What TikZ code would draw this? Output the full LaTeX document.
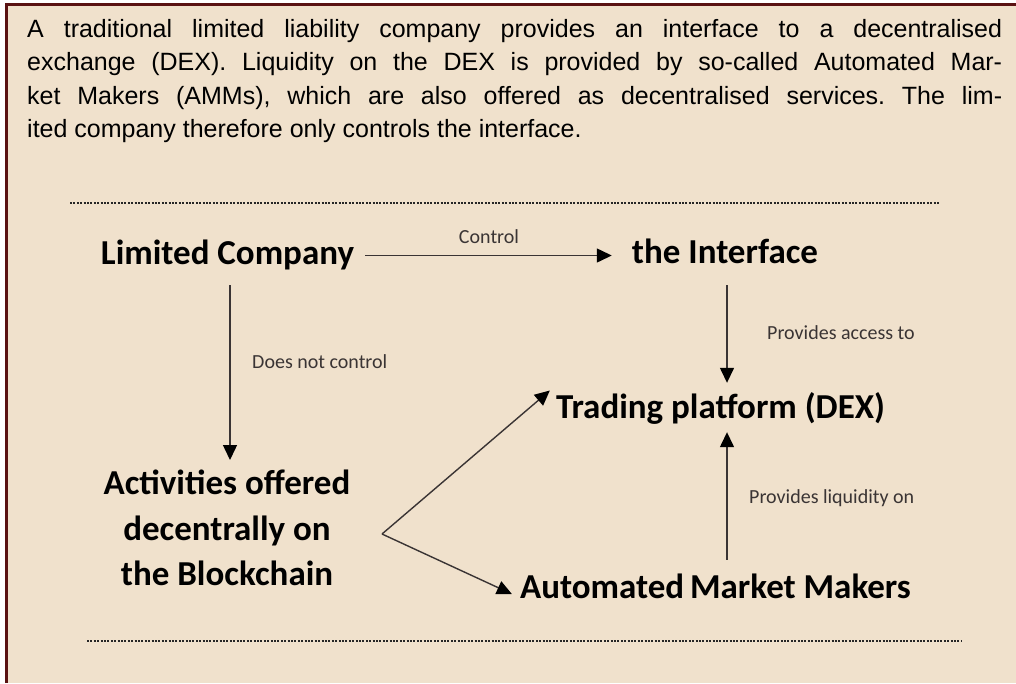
\documentclass[tikz,border=0pt]{standalone}
\usepackage{fontspec}
\setmainfont{Liberation Sans}
\newfontfamily\calibri{Carlito}
\usetikzlibrary{arrows.meta}

\definecolor{paper}{HTML}{F0E1CC}
\definecolor{rim}{HTML}{5A1212}
\definecolor{wire}{HTML}{3A3434}

\tikzset{
  bigtext/.style={font=\calibri\bfseries\fontsize{35}{45.5}\selectfont, align=center,
    inner sep=0pt, text height=25pt, text depth=8pt},
  blocktext/.style={font=\calibri\bfseries\fontsize{35}{45.5}\selectfont, align=center,
    inner sep=0pt},
  smalltext/.style={font=\calibri\fontsize{20}{24}\selectfont, text=wire, inner sep=0pt},
  link/.style={draw=wire, line width=1.4pt, -{Triangle[length=15pt,width=14pt,color=black]}},
  rule/.style={line width=2pt, dash pattern=on 2pt off 1.4pt, black!85}
}

\begin{document}
\begin{tikzpicture}[x=1pt, y=-1pt]

\useasboundingbox (0,0) rectangle (1016,683);

% Paper and frame
\fill[paper] (6,5) rectangle (1016,683);
\draw[rim, line width=2.6pt] (6.2,683) -- (6.2,4.7) -- (1016,4.7);

% Intro text
\node[anchor=north west, inner sep=0pt, text width=975pt, align=justify,
      font=\frenchspacing\fontsize{25}{33.5}\selectfont] (intro) at (27,19)
  {A traditional limited liability company provides an interface to a decentralised\linebreak
   exchange (DEX). Liquidity on the DEX is provided by so-called Automated Mar-\linebreak
   ket Makers (AMMs), which are also offered as decentralised services. The lim-\linebreak
   ited company therefore only controls the interface.};

% Dotted rules
\draw[rule] (70,203) -- (940,203);
\draw[rule] (87,640.5) -- (962,640.5);

% Boxes
\node[bigtext, anchor=base] (lc) at (227.5,264) {Limited Company};
\node[bigtext, anchor=base] (ui) at (725,263) {the Interface};
\node[bigtext, anchor=base] (dex) at (720.5,418) {Trading platform (DEX)};
\node[bigtext, anchor=base] (amm) at (715.5,598) {Automated\,Market Makers};
\node[blocktext, anchor=north] (act) at (227,470)
  {Activities offered\\decentrally on\\the Blockchain};
\coordinate (fork) at (382,534);

% Connectors
\draw[link, shorten <=11pt, shorten >=20pt] (lc.east) -- (lc.east -| ui.west);
\draw[link, shorten <=13pt, shorten >=10pt] ([xshift=2.5pt]lc.south) -- ([xshift=2.5pt]lc.south |- act.north);
\draw[link, shorten <=14pt, shorten >=10pt] ([xshift=2pt]ui.south) -- ([xshift=2pt]ui.south |- dex.north);
\draw[link, shorten <=13pt, shorten >=6pt] ([xshift=2pt]amm.north -| ui.south) -- ([xshift=2pt]dex.south -| ui.south);
\draw[link] (fork) -- ([shift={(-6,-19)}]dex.west);
\draw[link] (fork) -- ([shift={(-8,4.5)}]amm.west);

% Connector labels
\node[smalltext, anchor=base] (ctl) at (489,243) {Control};
\node[smalltext, anchor=base west] (dnc) at (252,368) {Does not control};
\node[smalltext, anchor=base west] (pat) at (767,339) {Provides access to};
\node[smalltext, anchor=base west] (plo) at (749,503) {Provides liquidity on};

\end{tikzpicture}
\end{document}
